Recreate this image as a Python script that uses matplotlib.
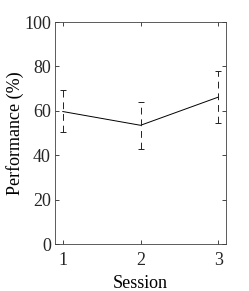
import matplotlib
matplotlib.use('Agg')
import matplotlib.pyplot as plt

# session performance data
sessions = [1, 2, 3]
performance = [59.7, 53.5, 66.2]
err_low = [50.5, 43.0, 54.4]
err_high = [69.4, 64.0, 78.0]

plt.rcParams['font.family'] = ['Liberation Serif', 'DejaVu Serif']
plt.rcParams['font.size'] = 13

fig = plt.figure(figsize=(2.49, 2.91), dpi=100)
ax = fig.add_axes([0.221, 0.1615, 0.687, 0.7625])

yerr = [[p - lo for p, lo in zip(performance, err_low)],
        [hi - p for p, hi in zip(performance, err_high)]]
ax.plot(sessions, performance, color='black', lw=0.7)
eb = ax.errorbar(sessions, performance, yerr=yerr, fmt='none', ecolor='#222222',
                 elinewidth=0.7, capsize=2, capthick=0.7)
eb[2][0].set_linestyle((0, (7, 5)))

ax.set_xlim(0.9, 3.1)
ax.set_ylim(0, 100)
ax.set_xticks(sessions)
ax.set_yticks([0, 20, 40, 60, 80, 100])
ax.set_xlabel('Session', labelpad=4)
ax.set_ylabel('Performance (%)', labelpad=0)
ax.tick_params(direction='in', top=True, right=True, length=3, width=0.6,
               colors='#262626', labelcolor='#262626')
ax.tick_params(axis='x', pad=6)
ax.tick_params(axis='y', pad=3)
for s in ax.spines.values():
    s.set_linewidth(0.6)
    s.set_color('#404040')

fig.savefig('out.png', dpi=100)
